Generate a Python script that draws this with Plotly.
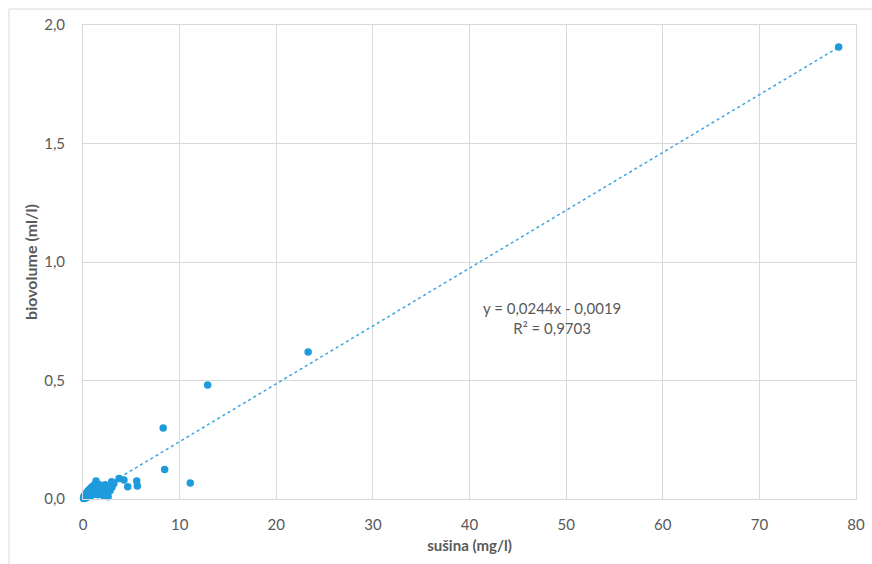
import plotly.graph_objects as go

# ---- data ----
susina = [0.05, 0.08, 0.10, 0.12, 0.15, 0.18, 0.20, 0.22, 0.25, 0.28, 0.30, 0.33,
          0.35, 0.40, 0.42, 0.45, 0.50, 0.52, 0.55, 0.60, 0.62, 0.65, 0.70, 0.72,
          0.75, 0.80, 0.85, 0.88, 0.90, 0.95, 1.00, 1.05, 1.10, 1.15, 1.20, 1.25,
          1.30, 1.35, 1.40, 1.45, 1.50, 1.55, 1.60, 1.70, 1.75, 1.80, 1.90, 2.00,
          2.10, 2.20, 2.30, 2.40, 2.50, 2.60, 2.80, 3.00, 3.20, 1.35, 2.97, 3.73,
          4.24, 4.63, 5.56, 5.62, 8.30, 8.45, 11.1, 12.9, 23.3, 78.2]
biovolume = [0.002, 0.008, 0.004, 0.012, 0.006, 0.015, 0.003, 0.010, 0.018, 0.007,
             0.022, 0.012, 0.005, 0.025, 0.015, 0.030, 0.010, 0.020, 0.035, 0.018,
             0.028, 0.040, 0.012, 0.032, 0.022, 0.045, 0.030, 0.015, 0.050, 0.038,
             0.025, 0.055, 0.042, 0.020, 0.060, 0.035, 0.048, 0.028, 0.065, 0.040,
             0.052, 0.018, 0.045, 0.060, 0.030, 0.050, 0.038, 0.055, 0.015, 0.045,
             0.060, 0.025, 0.040, 0.010, 0.035, 0.050, 0.065, 0.076, 0.073, 0.086,
             0.080, 0.052, 0.076, 0.055, 0.300, 0.125, 0.068, 0.481, 0.620, 1.907]

slope = 0.0244
intercept = -0.0019
r2 = 0.9703

x_ticks = [0, 10, 20, 30, 40, 50, 60, 70, 80]
y_ticks = [0.0, 0.5, 1.0, 1.5, 2.0]

blue = "#1E9BDC"
grid = "#D9D9D9"
txt = "#595959"
font = "Lato"

xmin, xmax = min(susina), max(susina)
trend_x = [xmin, xmax]
trend_y = [slope * v + intercept for v in trend_x]

L, R, T, B = 83, 856, 25, 499
W, H = 872, 564
pw, ph = R - L, B - T

fig = go.Figure()
fig.add_trace(go.Scatter(x=trend_x, y=trend_y, mode="lines",
                         line=dict(color="#3BA6E0", width=1.5, dash="dot"),
                         hoverinfo="skip", showlegend=False))
fig.add_trace(go.Scatter(x=susina, y=biovolume, mode="markers",
                         marker=dict(color=blue, size=7.5),
                         cliponaxis=False, showlegend=False))

fig.add_annotation(x=(552 - L) / pw, y=(B - 318) / ph, xref="paper", yref="paper",
                   text="y = 0,0244x - 0,0019<br>R² = 0,9703",
                   showarrow=False, align="center",
                   font=dict(family=font, size=15, color=txt))

# outer chart border
fig.add_shape(type="rect", xref="paper", yref="paper",
              x0=(9 - L) / pw, x1=1.2, y0=-0.3, y1=1 + (T - 9) / ph,
              line=dict(color=grid, width=1), fillcolor="rgba(0,0,0,0)", layer="below")

fig.update_layout(
    width=W, height=H,
    margin=dict(l=L, r=W - R, t=T, b=H - B, pad=0),
    autosize=False,
    paper_bgcolor="white", plot_bgcolor="white",
    separators=", ",
    font=dict(family=font, size=15, color=txt),
    xaxis=dict(range=[0, 80], tickvals=x_ticks, showgrid=True, gridcolor=grid,
               showline=True, linecolor=grid, mirror=True, zeroline=False,
               automargin=False,
               ticks="", ticklabelstandoff=12, tickfont=dict(size=15, color=txt),
               title=dict(text="<b>sušina (mg/l)</b>", font=dict(size=15, color=txt), standoff=8)),
    yaxis=dict(range=[0, 2.0], tickvals=y_ticks, tickformat=".1f", showgrid=True,
               gridcolor=grid, showline=True, linecolor=grid, mirror=True,
               zeroline=False, automargin=False, ticks="", ticklabelstandoff=14,
               tickfont=dict(size=15, color=txt),
               title=dict(text="<b>biovolume (ml/l)</b>", font=dict(size=16, color=txt), standoff=2)),
)

fig.write_html("out.html")
